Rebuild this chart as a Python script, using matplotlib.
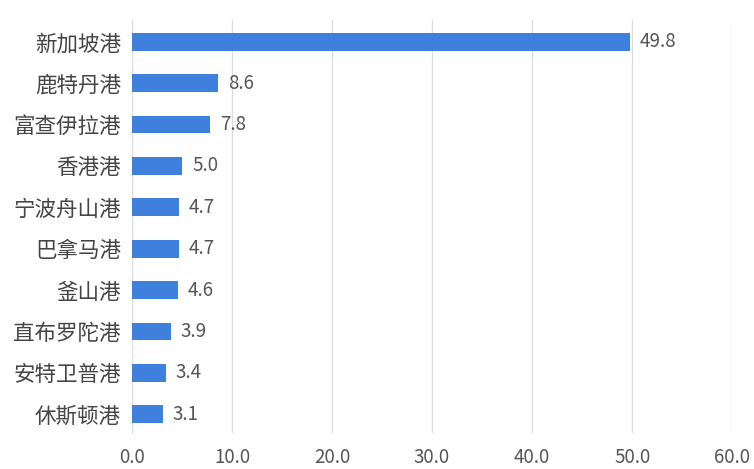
import matplotlib.pyplot as plt

plt.rcParams['font.family'] = ['Noto Sans CJK SC', 'DejaVu Sans']

ports = ['新加坡港', '鹿特丹港', '富查伊拉港', '香港港', '宁波舟山港',
         '巴拿马港', '釜山港', '直布罗陀港', '安特卫普港', '休斯顿港']
values = [49.8, 8.6, 7.8, 5.0, 4.7, 4.7, 4.6, 3.9, 3.4, 3.1]
xticks = [0, 10, 20, 30, 40, 50, 60]

fig = plt.figure(figsize=(7.54, 4.69), dpi=100)
ax = fig.add_axes([0.175, 0.0768, 0.796, 0.881])

y = range(len(ports))
ax.barh(y, values, height=0.43, color='#3f80dc', zorder=3)
for i, v in enumerate(values):
    ax.text(v + 1.0, i, f'{v:.1f}', va='center', ha='left',
            fontsize=13.5, color='#555555')

ax.set_xlim(0, 60)
ax.set_ylim(9.45, -0.53)
ax.set_yticks(list(y))
ax.set_yticklabels(ports, fontsize=15.5, color='#444444')
ax.set_xticks(xticks)
ax.set_xticklabels([f'{t:.1f}' for t in xticks], fontsize=13.5, color='#555555')
ax.tick_params(axis='x', length=0, pad=10)
ax.tick_params(axis='y', length=0, pad=8)
ax.grid(axis='x', color='#dcdcdc', linewidth=0.9, zorder=0)
for s in ['top', 'right', 'bottom']:
    ax.spines[s].set_visible(False)
ax.spines['left'].set_color('#dcdcdc')

fig.savefig('out.png', dpi=100)
